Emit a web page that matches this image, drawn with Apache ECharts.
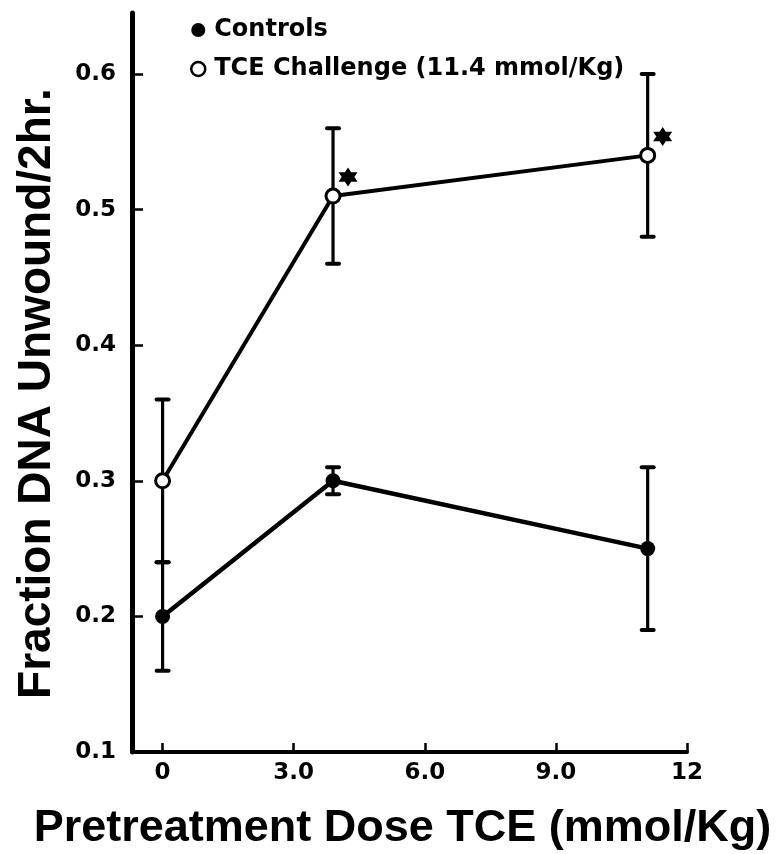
<!DOCTYPE html>
<html><head><meta charset="utf-8">
<script src="https://cdn.jsdelivr.net/npm/echarts@6/dist/echarts.min.js"></script>
<style>html,body{margin:0;padding:0;background:#fff}#c{width:778px;height:854px}</style>
</head><body><div id="c"></div>
<script>
const doses = [0, 3.9, 11.1];
const controlsMean = [0.20, 0.30, 0.25];
const controlsLow = [0.16, 0.29, 0.19];
const controlsHigh = [0.24, 0.31, 0.31];
const tceMean = [0.30, 0.51, 0.54];
const tceLow = [0.24, 0.46, 0.48];
const tceHigh = [0.36, 0.56, 0.60];
const tceSignificant = [false, true, true];
const xTickValues = [0, 3, 6, 9, 12];
const xTickLabels = ['0', '3.0', '6.0', '9.0', '12'];
const yTickValues = [0.1, 0.2, 0.3, 0.4, 0.5, 0.6];
const yTickLabels = ['0.1', '0.2', '0.3', '0.4', '0.5', '0.6'];
const seriesNames = ['Controls', 'TCE Challenge (11.4 mmol/Kg)'];
const xTitle = 'Pretreatment Dose TCE (mmol/Kg)';
const yTitle = 'Fraction DNA Unwound/2hr.';

function lookup(vals, labels, v) {
  for (let i = 0; i < vals.length; i++) if (Math.abs(vals[i] - v) < 1e-9) return labels[i];
  return '';
}

function errorBarItem(params, api) {
  const x = api.value(0), lo = api.value(1), hi = api.value(2);
  const pLo = api.coord([x, lo]);
  const pHi = api.coord([x, hi]);
  const cap = 6;
  const st = {stroke: '#000', lineWidth: 3.2};
  const capSt = {stroke: '#000', lineWidth: 4, lineCap: 'round'};
  return {
    type: 'group',
    children: [
      {type: 'line', shape: {x1: pLo[0], y1: pLo[1], x2: pHi[0], y2: pHi[1]}, style: st},
      {type: 'line', shape: {x1: pLo[0] - cap, y1: pLo[1], x2: pLo[0] + cap, y2: pLo[1]}, style: capSt},
      {type: 'line', shape: {x1: pHi[0] - cap, y1: pHi[1], x2: pHi[0] + cap, y2: pHi[1]}, style: capSt}
    ]
  };
}

const starPath = 'path://M0,-10 L8.66,5 L-8.66,5 Z M0,10 L-8.66,-5 L8.66,-5 Z';

const chart = echarts.init(document.getElementById('c'), null, {renderer: 'canvas'});
const labelFont = {fontFamily: 'DejaVu Sans', fontWeight: 'bold', fontSize: 23, color: '#000'};
const titleFont = {fontFamily: 'Liberation Sans', fontWeight: 'bold', fontSize: 46, color: '#000'};

chart.setOption({
  animation: false,
  backgroundColor: '#fff',
  grid: {left: 132, right: 91, top: 13, bottom: 102, containLabel: false, outerBoundsMode: 'none'},
  legend: {
    orient: 'vertical', left: 185, top: 13,
    itemWidth: 14, itemHeight: 14, itemGap: 15,
    selectedMode: false,
    textStyle: {fontFamily: 'DejaVu Sans', fontWeight: 'bold', fontSize: 24, color: '#000', padding: [0, 0, 0, 4]},
    data: [
      {name: seriesNames[0], icon: 'circle', itemStyle: {color: '#000', borderWidth: 0}},
      {name: seriesNames[1], icon: 'circle', itemStyle: {color: '#fff', borderColor: '#000', borderWidth: 2.5}}
    ]
  },
  xAxis: {
    type: 'value', min: -0.7, max: 12,
    name: xTitle, nameLocation: 'middle', nameGap: 54,
    nameTextStyle: Object.assign({}, titleFont, {fontSize: 45, padding: [0, 14, 0, 0]}),
    axisLine: {onZero: false, lineStyle: {color: '#000', width: 4}},
    axisTick: {inside: true, length: 9, customValues: xTickValues, lineStyle: {color: '#000', width: 2.5}},
    axisLabel: {customValues: xTickValues, margin: 10, formatter: v => lookup(xTickValues, xTickLabels, v), ...labelFont},
    splitLine: {show: false}
  },
  yAxis: {
    type: 'value', min: 0.1, max: 0.645,
    name: yTitle, nameLocation: 'middle', nameGap: 72, nameRotate: 90,
    nameTextStyle: Object.assign({}, titleFont, {padding: [0, 22, 0, 0]}),
    axisLine: {onZero: false, lineStyle: {color: '#000', width: 5}},
    axisTick: {inside: true, length: 11, customValues: yTickValues, lineStyle: {color: '#000', width: 2.5}},
    axisLabel: {customValues: yTickValues, margin: 16, formatter: v => lookup(yTickValues, yTickLabels, v), ...labelFont},
    splitLine: {show: false}
  },
  series: [
    {
      type: 'custom', name: 'controlsErr', renderItem: errorBarItem, z: 1, silent: true,
      encode: {x: 0, y: [1, 2]},
      data: doses.map((d, i) => [d, controlsLow[i], controlsHigh[i]])
    },
    {
      type: 'custom', name: 'tceErr', renderItem: errorBarItem, z: 1, silent: true,
      encode: {x: 0, y: [1, 2]},
      data: doses.map((d, i) => [d, tceLow[i], tceHigh[i]])
    },
    {
      type: 'line', name: seriesNames[0], z: 3,
      symbol: 'circle', symbolSize: 15,
      itemStyle: {color: '#000'},
      lineStyle: {color: '#000', width: 4.5},
      emphasis: {disabled: true},
      data: doses.map((d, i) => [d, controlsMean[i]])
    },
    {
      type: 'line', name: seriesNames[1], z: 4,
      symbol: 'circle', symbolSize: 14,
      itemStyle: {color: '#fff', borderColor: '#000', borderWidth: 3},
      lineStyle: {color: '#000', width: 4},
      emphasis: {disabled: true},
      data: doses.map((d, i) => [d, tceMean[i]])
    },
    {
      type: 'scatter', name: 'significance', z: 5, silent: true,
      symbol: starPath, symbolSize: 19, symbolOffset: [15, -19],
      itemStyle: {color: '#000', borderWidth: 0, opacity: 1},
      emphasis: {disabled: true},
      data: doses.map((d, i) => [d, tceMean[i]]).filter((p, i) => tceSignificant[i])
    }
  ]
});
</script>
</body></html>
